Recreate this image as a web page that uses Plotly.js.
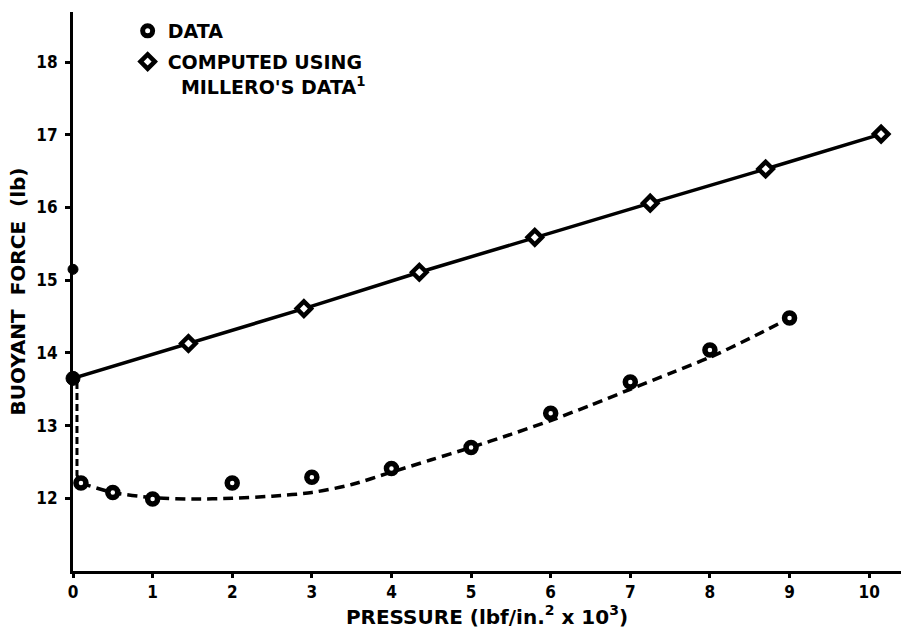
<!DOCTYPE html>
<html>
<head>
<meta charset="utf-8">
<script src="https://cdn.plot.ly/plotly-3.0.1.min.js"></script>
<style>html,body{margin:0;padding:0;background:#fff;}#chart{width:901px;height:630px;}</style>
</head>
<body>
<div id="chart"></div>
<script>
// Measured data (circles)
const pressureData = [0.1, 0.5, 1, 2, 3, 4, 5, 6, 7, 8, 9];
const forceData = [12.21, 12.08, 11.99, 12.21, 12.29, 12.41, 12.70, 13.17, 13.60, 14.04, 14.48];
// Computed using Millero's data (diamonds)
const pressureComputed = [0, 1.45, 2.9, 4.35, 5.8, 7.25, 8.7, 10.15];
const forceComputed = [13.65, 14.13, 14.61, 15.11, 15.59, 16.06, 16.53, 17.01];
// Dashed curve through the data
const fitPressure = [0.1, 0.5, 1, 1.5, 2, 2.5, 3, 3.5, 4, 4.5, 5, 5.5, 6, 6.5, 7, 7.5, 8, 8.5, 9];
const fitForce = [12.21, 12.08, 12.01, 11.99, 12.0, 12.03, 12.08, 12.19, 12.36, 12.53, 12.7, 12.88, 13.07, 13.28, 13.5, 13.72, 13.94, 14.2, 14.48];
// Dashed segment running up beside the y axis
const axisDashPressure = [0.05, 0.05, 0.1];
const axisDashForce = [13.6, 12.32, 12.21];
// Solid points on the y axis
const axisPointPressure = [0, 0];
const axisPointForce = [15.15, 13.65];
const axisPointSize = [10, 14];
// Tick labels
const xTicks = [0,1,2,3,4,5,6,7,8,9,10];
const yTicks = [12,13,14,15,16,17,18];

const tickFont = {family: 'DejaVu Sans Condensed, DejaVu Sans, sans-serif', size: 17, color: '#000', weight: 700};
const titleFont = {family: 'DejaVu Sans, sans-serif', size: 20, color: '#000', weight: 700};
const legendFont = {family: 'DejaVu Sans, sans-serif', size: 19, color: '#000', weight: 700};

const traces = [
  {x: pressureComputed, y: forceComputed, mode: 'lines', line: {color: '#000', width: 3.5}, showlegend: false, hoverinfo: 'skip', cliponaxis: false},
  {x: fitPressure, y: fitForce, mode: 'lines', line: {color: '#000', width: 3.5, dash: '10px,6px', shape: 'spline', smoothing: 0.8}, showlegend: false, cliponaxis: false},
  {x: axisDashPressure, y: axisDashForce, mode: 'lines', line: {color: '#000', width: 3, dash: '7px,4px'}, showlegend: false, cliponaxis: false},
  {x: pressureData, y: forceData, mode: 'markers', name: 'DATA',
   marker: {symbol: 'circle', size: 10, color: '#fff', opacity: 1, line: {color: '#000', width: 5.5}}, cliponaxis: false},
  {x: pressureComputed.slice(1), y: forceComputed.slice(1), mode: 'markers', name: 'COMPUTED USING<br>  MILLERO\'S DATA<sup>1</sup>',
   marker: {symbol: 'diamond', size: 11, color: '#fff', opacity: 1, line: {color: '#000', width: 4.5}}, cliponaxis: false},
  {x: axisPointPressure, y: axisPointForce, mode: 'markers', showlegend: false,
   marker: {symbol: 'circle', size: axisPointSize, color: '#000', opacity: 1, line: {color: '#000', width: 1}}, cliponaxis: false}
];

const layout = {
  width: 901, height: 630,
  margin: {l: 73, r: 0, t: 12, b: 59},
  paper_bgcolor: '#fff', plot_bgcolor: '#fff',
  showlegend: true,
  legend: {x: 0.066, y: 1.0, xanchor: 'left', yanchor: 'top', font: legendFont, bgcolor: 'rgba(0,0,0,0)', valign: 'top', tracegroupgap: 0},
  xaxis: {
    range: [0, 10.4], tickvals: xTicks, ticktext: xTicks.map(String),
    showgrid: false, zeroline: false, showline: true, linecolor: '#000', linewidth: 3,
    ticks: 'outside', ticklen: 4, tickwidth: 3, tickcolor: '#000', tickfont: tickFont,
    title: {text: 'PRESSURE (lbf/in.<sup>2</sup> x 10<sup>3</sup>)', font: titleFont, standoff: 4}
  },
  yaxis: {
    range: [11, 18.69], tickvals: yTicks, ticktext: yTicks.map(String),
    showgrid: false, zeroline: false, showline: true, linecolor: '#000', linewidth: 3,
    ticks: 'outside', ticklen: 5, tickwidth: 3, tickcolor: '#000', tickfont: tickFont, ticklabelstandoff: 4,
    title: {text: 'BUOYANT  FORCE  (lb)', font: titleFont, standoff: 6}
  }
};

Plotly.newPlot('chart', traces, layout, {displayModeBar: false, staticPlot: true}).then(function(gd){
  // move the second legend entry a little lower, as in the reference
  const items = gd.querySelectorAll('.legend .traces');
  if (items.length > 1) {
    const t = items[1].getAttribute('transform');
    const m = /translate\(([^,]+),\s*([^)]+)\)/.exec(t);
    if (m) items[1].setAttribute('transform', 'translate(' + m[1] + ',' + (parseFloat(m[2]) + 3) + ')');
  }
});
</script>
</body>
</html>
